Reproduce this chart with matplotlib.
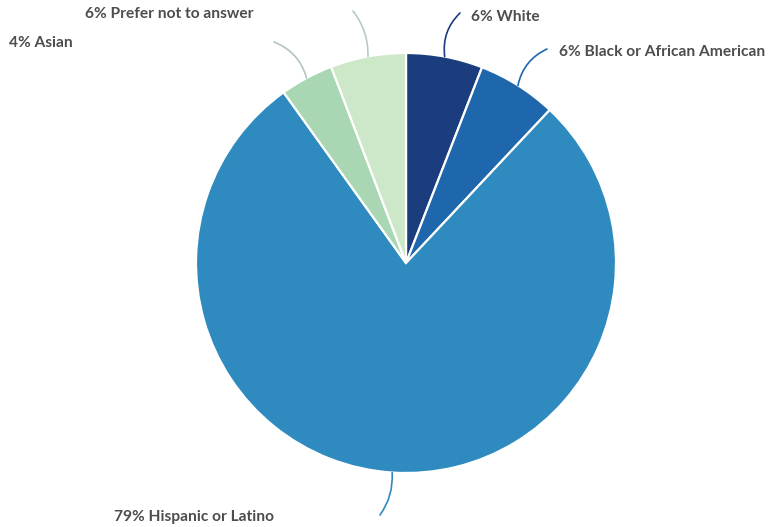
import numpy as np
import matplotlib
matplotlib.use("Agg")
import matplotlib.pyplot as plt

categories = ["White", "Black or African American", "Hispanic or Latino", "Asian", "Prefer not to answer"]
shares = [5.9, 6.1, 78.1, 4.1, 5.8]
label_pct = ["6%", "6%", "79%", "4%", "6%"]
colors = ["#1b3d7e", "#1f67ac", "#2e8abf", "#a9d7b4", "#cde8c8"]
line_colors = ["#1b3d7e", "#1f67ac", "#2e8abf", "#b0c8b8", "#b8ccbc"]

W, H = 771, 527
fig = plt.figure(figsize=(W / 100, H / 100), dpi=100)
ax = fig.add_axes([0, 0, 1, 1])

cx, cy, r = 406, 527 - 263, 210
wedges, _ = ax.pie(shares, colors=colors, startangle=90, counterclock=False,
                   center=(cx, cy), radius=r, frame=True,
                   wedgeprops=dict(edgecolor="white", linewidth=1.6))
ax.set_xlim(0, W)
ax.set_ylim(0, H)
ax.set_aspect("equal")
ax.axis("off")

# label layout (pixel coords, top-left origin)
text_pos = [(471, 17), (559, 52), (114, 517), (9, 43), (85, 14)]
line_end = [(460, 13), (547, 49), (380, 515), (274, 42), (353, 11)]
rads = [0.25, 0.25, 0.18, -0.25, -0.18]

for w, lab, pct, tp, le, rad, lc in zip(wedges, categories, label_pct, text_pos, line_end, rads, line_colors):
    ang = np.deg2rad((w.theta1 + w.theta2) / 2)
    x0 = cx + r * np.cos(ang)
    y0 = cy + r * np.sin(ang)
    ax.annotate("", xy=(x0, y0), xytext=(le[0], H - le[1]),
                arrowprops=dict(arrowstyle="-", color=lc, lw=1.2,
                                connectionstyle=f"arc3,rad={rad}", shrinkA=0, shrinkB=0))
    ax.text(tp[0], H - tp[1], f"{pct} {lab}", ha="left", va="center",
            fontsize=11.2, fontweight="bold", color="#4d4d4d", family="Lato")

fig.savefig("out.png", dpi=100)
